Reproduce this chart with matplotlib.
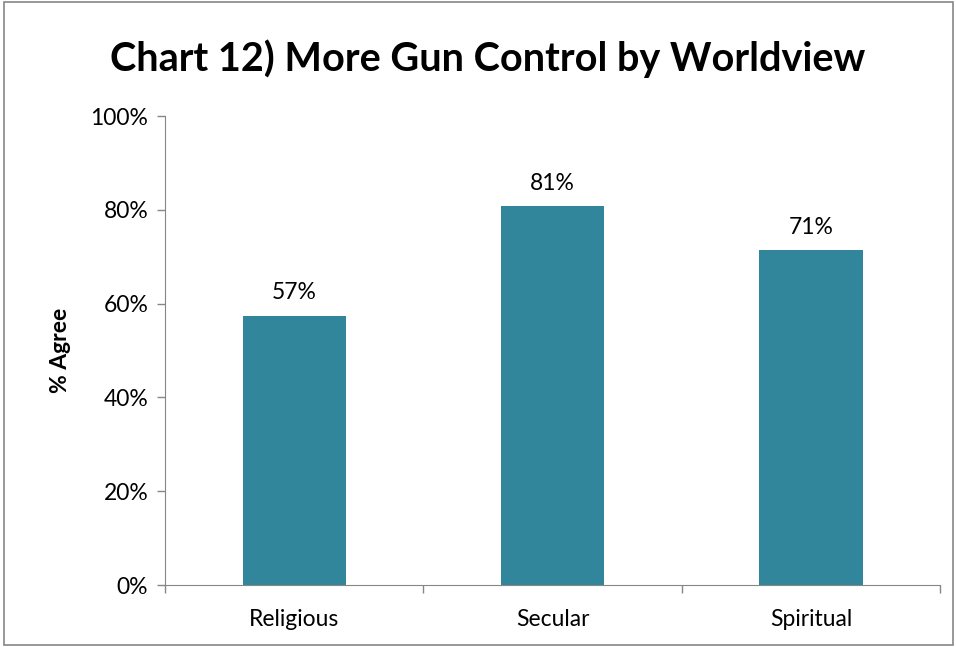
import matplotlib.pyplot as plt
from matplotlib.patches import Rectangle
from matplotlib.ticker import FixedLocator

plt.rcParams['font.family'] = ['Lato', 'DejaVu Sans']

categorias = ["Religious", "Secular", "Spiritual"]
valores = [57.4, 80.8, 71.4]
etiquetas = ["57%", "81%", "71%"]
yticks = [0, 20, 40, 60, 80, 100]

COLOR_BARRA = "#31869B"
GRIS = "#868686"
TAM = 16.5

fig = plt.figure(figsize=(9.56, 6.47), dpi=100)
ax = fig.add_axes([0.1726, 0.0958, 0.8107, 0.7249])

xs = list(range(len(categorias)))
ax.bar(xs, valores, width=0.40, color=COLOR_BARRA)

for x, v, t in zip(xs, valores, etiquetas):
    ax.annotate(t, (x, v), textcoords="offset points", xytext=(0, 9),
                ha="center", va="bottom", fontsize=TAM)

ax.set_xlim(-0.5, len(categorias) - 0.5)
ax.set_ylim(0, 100)
ax.set_yticks(yticks)
ax.set_yticklabels([f"{v}%" for v in yticks], fontsize=TAM)
ax.set_xticks(xs)
ax.set_xticklabels(categorias, fontsize=TAM)
ax.tick_params(axis="x", length=0, pad=17)
ax.xaxis.set_minor_locator(FixedLocator([-0.5, 0.5, 1.5, 2.5]))
ax.tick_params(axis="x", which="minor", length=6, color=GRIS, width=1)
ax.tick_params(axis="y", length=6, color=GRIS, width=1, pad=6)

for s in ["top", "right"]:
    ax.spines[s].set_visible(False)
for s in ["left", "bottom"]:
    ax.spines[s].set_color(GRIS)

ax.set_ylabel("% Agree", fontsize=TAM, fontweight="bold", labelpad=14)

fig.text(0.51, 0.910, "Chart 12) More Gun Control by Worldview",
         ha="center", va="center", fontsize=28.5, fontweight="bold")

fig.patches.append(Rectangle((0.004, 0.003), 0.993, 0.994, transform=fig.transFigure,
                             fill=False, edgecolor=GRIS, lw=1.2))

fig.savefig("out.png", dpi=100, facecolor="white")
